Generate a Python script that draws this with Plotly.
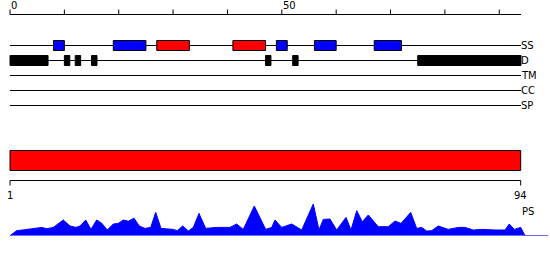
import plotly.graph_objects as go

# ---- data ----
top_ticks = [0, 10, 20, 30, 40, 50, 60, 70, 80, 90]
top_tick_labels = {0: "0", 50: "50"}
seq_len = 94

track_names = ["SS", "D", "TM", "CC", "SP"]

ss_start = [8, 19, 27, 41, 49, 56, 67]
ss_end = [10, 25, 33, 47, 51, 60, 72]
ss_color = ["#0000FF", "#0000FF", "#FF0000", "#FF0000", "#0000FF", "#0000FF", "#0000FF"]

d_start = [0, 10, 12, 15, 47, 52, 75]
d_end = [7, 11, 13, 16, 48, 53, 94]

domain_start = [1]
domain_end = [94]
domain_color = ["#FF0000"]

ps_pos = [1.00, 2.22, 3.73, 5.24, 6.77, 7.68, 8.88, 10.71, 11.93, 13.02, 13.75, 14.79,
          15.75, 16.79, 17.70, 18.72, 19.81, 20.72, 21.63, 22.54, 23.58, 24.55, 25.58,
          26.62, 27.53, 28.50, 29.54, 30.74, 31.47, 32.45, 33.47, 34.38, 35.42, 36.64,
          38.64, 41.06, 42.28, 43.48, 45.49, 47.56, 48.66, 49.26, 50.48, 52.30, 54.12,
          56.23, 57.27, 58.05, 59.27, 60.49, 62.19, 63.10, 64.14, 65.15, 66.25, 68.07,
          69.89, 71.11, 72.20, 73.97, 75.06, 75.97, 76.88, 77.79, 78.99, 80.81, 82.64,
          83.86, 85.37, 86.90, 89.32, 91.14, 91.92, 92.83, 94.00, 94.78, 98.97]
ps_val = [0, 5, 6, 7.3, 8.3, 7, 8.3, 15.7, 9.7, 8.3, 9.7, 15.7,
          6.3, 15.7, 12.5, 5.7, 11.7, 12.3, 15.7, 14.5, 17.5, 9.7, 7.3,
          8.3, 23.3, 7.3, 6.7, 6.3, 5, 9.7, 4.7, 8.3, 22.3, 7.3,
          8.3, 8.3, 11.7, 6.3, 29.7, 6.3, 8.3, 15.7, 8.3, 11.7, 5.7,
          31.7, 5.7, 16.3, 16.7, 5.7, 18.3, 5.7, 25, 14, 20.7, 9,
          9, 14.7, 12.3, 23.3, 7.3, 8.3, 4.7, 5, 9.7, 6.3, 8.3,
          8.3, 5.7, 6.3, 5.7, 5.7, 11.7, 6.3, 8.3, 0, 0]

# ---- layout constants (pixel-like vertical positions) ----
W, H = 550, 260
axis_y = 14.5
track_y = [45.5, 60.5, 75.5, 90.5, 105.5]
box_half = 5
dom_top, dom_bot = 150.5, 170.5
bot_axis_y = 180.5
FONT = "DejaVu Sans"

fig = go.Figure()

# PS area profile
fig.add_trace(go.Scatter(
    x=ps_pos, y=ps_val, xaxis="x2", yaxis="y2", mode="lines",
    line=dict(color="#0000FF", width=1), fill="tozeroy", fillcolor="#0000FF",
    hoverinfo="skip", showlegend=False))

shapes = []
# top axis
shapes.append(dict(type="line", xref="x", yref="y", x0=0, x1=seq_len, y0=axis_y, y1=axis_y,
                   line=dict(color="black", width=1)))
for t in top_ticks:
    shapes.append(dict(type="line", xref="x", yref="y", x0=t, x1=t, y0=axis_y, y1=axis_y - 5,
                       line=dict(color="black", width=1)))
# track lines
for ty in track_y:
    shapes.append(dict(type="line", xref="x", yref="y", x0=0, x1=seq_len, y0=ty, y1=ty,
                       line=dict(color="black", width=1)))
# SS boxes
for s, e, c in zip(ss_start, ss_end, ss_color):
    shapes.append(dict(type="rect", xref="x", yref="y", x0=s, x1=e,
                       y0=track_y[0] - box_half, y1=track_y[0] + box_half,
                       fillcolor=c, line=dict(color="black", width=1)))
# D boxes
for s, e in zip(d_start, d_end):
    shapes.append(dict(type="rect", xref="x", yref="y", x0=s, x1=e,
                       y0=track_y[1] - box_half, y1=track_y[1] + box_half,
                       fillcolor="black", line=dict(color="black", width=1)))
# domain bar
for s, e, c in zip(domain_start, domain_end, domain_color):
    shapes.append(dict(type="rect", xref="x2", yref="y", x0=s, x1=e, y0=dom_top, y1=dom_bot,
                       fillcolor=c, line=dict(color="black", width=1)))
# bottom axis
shapes.append(dict(type="line", xref="x2", yref="y", x0=1, x1=seq_len, y0=bot_axis_y, y1=bot_axis_y,
                   line=dict(color="black", width=1)))
for t in [1, seq_len]:
    shapes.append(dict(type="line", xref="x2", yref="y", x0=t, x1=t, y0=bot_axis_y, y1=bot_axis_y + 5,
                       line=dict(color="black", width=1)))

ann = []
for t, lab in top_tick_labels.items():
    ann.append(dict(xref="x", yref="y", x=t, y=5, text=lab, showarrow=False,
                    xanchor="left", yanchor="middle", xshift=-1, font=dict(family=FONT, size=10, color="black")))
for name, ty in zip(track_names, track_y):
    ann.append(dict(xref="x", yref="y", x=seq_len, y=ty, text=name, showarrow=False,
                    xanchor="left", yanchor="middle", xshift=-2, font=dict(family=FONT, size=10, color="black")))
ann.append(dict(xref="x2", yref="y", x=1, y=195, text="1", showarrow=False,
                xanchor="center", yanchor="middle", font=dict(family=FONT, size=10, color="black")))
ann.append(dict(xref="x2", yref="y", x=seq_len, y=195, text=str(seq_len), showarrow=False,
                xanchor="center", yanchor="middle", font=dict(family=FONT, size=10, color="black")))
ann.append(dict(xref="x2", yref="y", x=seq_len, y=211, text="PS", showarrow=False,
                xanchor="left", yanchor="middle", xshift=-1, font=dict(family=FONT, size=10, color="black")))

s_top = 511 / 94
s_bot = 510.7 / 93
fig.update_layout(
    width=W, height=H, margin=dict(l=0, r=0, t=0, b=0),
    paper_bgcolor="white", plot_bgcolor="white", showlegend=False,
    xaxis=dict(range=[-10 / s_top, 540 / s_top], domain=[0, 1], visible=False, fixedrange=True),
    yaxis=dict(range=[H, 0], domain=[0, 1], visible=False, fixedrange=True),
    xaxis2=dict(range=[1 - 10 / s_bot, 1 + 540 / s_bot], domain=[0, 1], anchor="y2",
                overlaying="x", visible=False, fixedrange=True),
    yaxis2=dict(range=[0, 40], domain=[24.3 / H, 64.3 / H], anchor="x2",
                visible=False, fixedrange=True),
    shapes=shapes, annotations=ann,
)

fig.write_html("out.html")
